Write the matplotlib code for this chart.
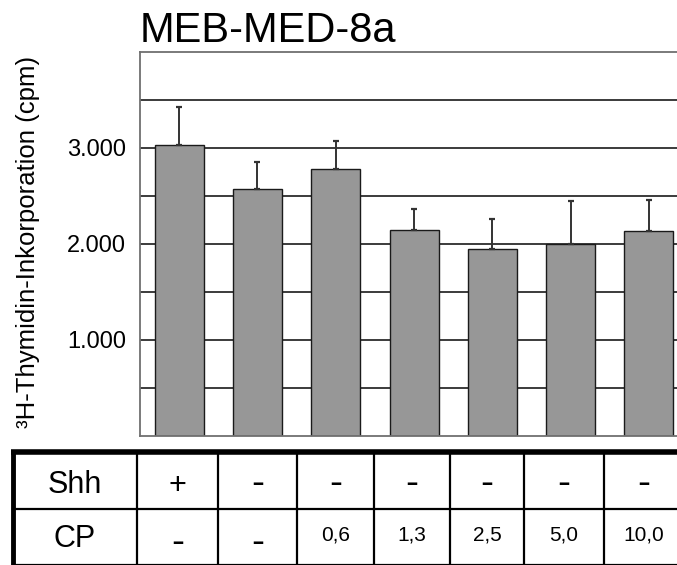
import matplotlib
matplotlib.use("Agg")
import matplotlib.pyplot as plt
import numpy as np

plt.rcParams['font.family'] = ['Liberation Sans', 'DejaVu Sans']

# Proliferation data (cpm) per treatment group
groups = ["1", "2", "3", "4", "5", "6", "7"]
means = [3030, 2570, 2785, 2150, 1945, 1995, 2140]
errors = [400, 287, 288, 215, 315, 450, 318]

# Treatment table rows
shh_row = ["+", "-", "-", "-", "-", "-", "-"]
cp_row = ["-", "-", "0,6", "1,3", "2,5", "5,0", "10,0"]

y_ticks = [1000, 2000, 3000]
y_tick_labels = ["1.000", "2.000", "3.000"]
grid_levels = [500, 1000, 1500, 2000, 2500, 3000, 3500]

W, H = 677, 565
fig = plt.figure(figsize=(W / 100, H / 100), dpi=100)

# Bar chart axes (pixel layout converted to figure fractions)
ax_left, ax_top, ax_bottom = 140, 52, 436
cat_w = 78.3
ax = fig.add_axes([ax_left / W, (H - ax_bottom) / H,
                   7 * cat_w / W, (ax_bottom - ax_top) / H])
x = np.arange(len(groups))
for g in grid_levels:
    ax.axhline(g, color="#1a1a1a", lw=1.2, zorder=1)
ax.bar(x, means, width=0.626, color="#979797", edgecolor="#1a1a1a",
       linewidth=1.0, zorder=2)
ax.errorbar(x, means, yerr=[np.zeros(len(errors)), errors], fmt="none",
            ecolor="#333333", elinewidth=1.4, capsize=2.2, capthick=1.6,
            zorder=3)
ax.set_xlim(-0.5, 6.5)
ax.set_ylim(0, 4000)
ax.set_xticks([])
ax.set_yticks(y_ticks)
ax.set_yticklabels(y_tick_labels, fontsize=17)
ax.tick_params(axis="y", length=0, pad=10)
for side in ["left", "top", "bottom", "right"]:
    ax.spines[side].set_color("#707070")
    ax.spines[side].set_linewidth(1.3)

fig.text(140 / W, 1 - 42 / H, "MEB-MED-8a", fontsize=30, ha="left",
         va="baseline")
fig.text(28 / W, 1 - 242 / H, "³H-Thymidin-Inkorporation (cpm)",
         fontsize=18.5, rotation=90, ha="center", va="center")

# Treatment table drawn in pixel coordinates
tab = fig.add_axes([0, 0, 1, (H - 440) / H])
tab.set_xlim(0, W)
tab.set_ylim(H, 440)
tab.axis("off")
col_edges = [13, 137, 218, 297, 374, 450, 524, 604, 684]
top_y, mid_y, bot_y = 452, 509, 566
tab.plot([11, W], [top_y, top_y], color="black", lw=4, solid_capstyle="butt")
tab.plot([13, 13], [top_y, bot_y], color="black", lw=3.5, solid_capstyle="butt")
tab.plot([13, W], [mid_y, mid_y], color="black", lw=1.6)
tab.plot([13, W], [bot_y - 1, bot_y - 1], color="black", lw=1.6)
for xe in col_edges[1:-1]:
    tab.plot([xe, xe], [top_y, bot_y], color="black", lw=1.6)

label_x = (col_edges[0] + col_edges[1]) / 2
tab.text(label_x, 493, "Shh", fontsize=22, ha="center", va="baseline")
tab.text(label_x, 547, "CP", fontsize=22, ha="center", va="baseline")


def cell_text(cx, base_row1, text):
    if text == "-":
        tab.text(cx, base_row1, text, fontsize=28, ha="center", va="baseline")
    elif text == "+":
        tab.text(cx, base_row1, text, fontsize=22, ha="center", va="baseline")
    else:
        tab.text(cx, base_row1, text, fontsize=15, ha="center", va="baseline")


for i in range(len(groups)):
    cx = (col_edges[i + 1] + col_edges[i + 2]) / 2
    cell_text(cx, 494, shh_row[i])
    cell_text(cx, 553 if cp_row[i] == "-" else 541, cp_row[i])

fig.savefig("out.png", dpi=100)
